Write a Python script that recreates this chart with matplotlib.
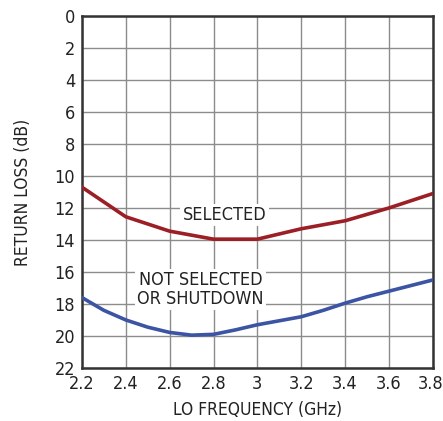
import matplotlib
matplotlib.use("Agg")
import matplotlib.pyplot as plt
from matplotlib import font_manager
from matplotlib.transforms import ScaledTranslation
import numpy as np

names = {f.name for f in font_manager.fontManager.ttflist}
if "Liberation Sans Narrow" in names:
    plt.rcParams["font.family"] = ["Liberation Sans Narrow", "DejaVu Sans"]
else:
    plt.rcParams["font.family"] = ["DejaVu Sans"]
    plt.rcParams["font.stretch"] = "condensed"

# LO frequency (GHz) and return loss (dB)
freq_sel = [2.2, 2.4, 2.6, 2.8, 3.0, 3.2, 3.4, 3.6, 3.8]
rl_selected = [10.7, 12.55, 13.45, 13.95, 13.95, 13.3, 12.8, 12.0, 11.1]

freq_off = [2.2, 2.3, 2.4, 2.5, 2.6, 2.7, 2.8, 2.9, 3.0, 3.1, 3.2, 3.3,
            3.4, 3.5, 3.6, 3.7, 3.8]
rl_off = [17.6, 18.4, 19.0, 19.45, 19.78, 19.95, 19.9, 19.62, 19.3,
          19.05, 18.8, 18.4, 17.95, 17.55, 17.2, 16.85, 16.5]

x_ticks = np.arange(2.2, 3.81, 0.2)
x_labels = ["2.2", "2.4", "2.6", "2.8", "3", "3.2", "3.4", "3.6", "3.8"]
y_ticks = np.arange(0, 23, 2)

fig = plt.figure(figsize=(4.43, 4.21), dpi=100)
ax = fig.add_axes([0.185, 0.126, 0.792, 0.836])

ax.plot(freq_sel, rl_selected, color="#9b1f24", lw=2.6, zorder=3,
        solid_joinstyle="round")
ax.plot(freq_off, rl_off, color="#3b54a3", lw=2.6, zorder=3,
        solid_joinstyle="round")

ax.set_xlim(2.2, 3.8)
ax.set_ylim(22, 0)
ax.set_xticks(x_ticks)
ax.set_xticklabels(x_labels)
ax.set_yticks(y_ticks)
ax.tick_params(length=0, labelsize=13, pad=5, colors="#222222")
ax.grid(True, color="#8c8c8c", lw=1.0)
ax.set_axisbelow(True)
for s in ax.spines.values():
    s.set_linewidth(1.8)
    s.set_color("#333333")

# nudge the last x tick label so it stays inside the canvas
last = ax.get_xticklabels()[-1]
last.set_transform(last.get_transform()
                   + ScaledTranslation(-2.5 / 100, 0, fig.dpi_scale_trans))

ax.set_xlabel("LO FREQUENCY (GHz)", fontsize=12.5, color="#222222", labelpad=6)
ax.set_ylabel("RETURN LOSS (dB)", fontsize=12.5, color="#222222", labelpad=16)

box = dict(facecolor="white", edgecolor="none", pad=1.5)
ax.text(2.85, 12.45, "SELECTED", ha="center", va="center", fontsize=13,
        color="#222222", bbox=box, zorder=4)
ax.text(2.74, 17.1, "NOT SELECTED\nOR SHUTDOWN", ha="center", va="center",
        fontsize=13, color="#222222", bbox=box, zorder=4, linespacing=1.05)

fig.savefig("out.png", dpi=100)
